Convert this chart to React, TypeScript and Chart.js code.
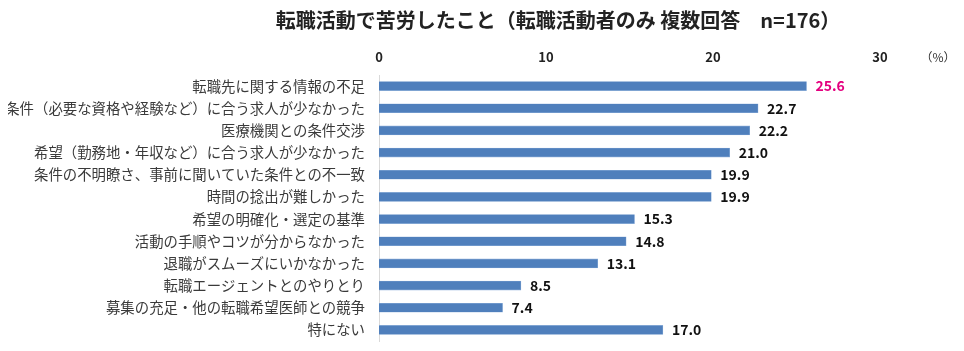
import React, { useEffect, useRef } from "react";
import { Chart, registerables } from "chart.js";

Chart.register(...registerables);

const titleText = "転職活動で苦労したこと（転職活動者のみ 複数回答　n=176）";
const unitText = "（%）";
const categories = [
  "転職先に関する情報の不足",
  "条件（必要な資格や経験など）に合う求人が少なかった",
  "医療機関との条件交渉",
  "希望（勤務地・年収など）に合う求人が少なかった",
  "条件の不明瞭さ、事前に聞いていた条件との不一致",
  "時間の捻出が難しかった",
  "希望の明確化・選定の基準",
  "活動の手順やコツが分からなかった",
  "退職がスムーズにいかなかった",
  "転職エージェントとのやりとり",
  "募集の充足・他の転職希望医師との競争",
  "特にない",
];
const values = [25.6, 22.7, 22.2, 21.0, 19.9, 19.9, 15.3, 14.8, 13.1, 8.5, 7.4, 17.0];
const labelColors = ["#e4007f", "#111", "#111", "#111", "#111", "#111", "#111", "#111", "#111", "#111", "#111", "#111"];
const xTicks = [0, 10, 20, 30];

const JP = '"Noto Sans CJK JP", "Noto Sans", sans-serif';

const overlay = {
  id: "overlay",
  afterDatasetsDraw(chart: any) {
    const ctx = chart.ctx;
    const meta = chart.getDatasetMeta(0);
    ctx.save();
    ctx.font = `bold 14px ${JP}`;
    ctx.textBaseline = "middle";
    ctx.textAlign = "left";
    meta.data.forEach((bar: any, i: number) => {
      ctx.fillStyle = labelColors[i];
      ctx.fillText(values[i].toFixed(1), bar.x + 9, bar.y);
    });
    ctx.restore();
  },
  afterDraw(chart: any) {
    const ctx = chart.ctx;
    ctx.save();
    ctx.fillStyle = "#222";
    ctx.font = `bold 20px ${JP}`;
    ctx.textAlign = "center";
    ctx.textBaseline = "middle";
    ctx.fillText(titleText, 550, 12);
    ctx.font = `12px ${JP}`;
    ctx.fillStyle = "#333";
    ctx.fillText(unitText, 930, 49);
    ctx.restore();
  },
};

export default function App() {
  const ref = useRef<HTMLCanvasElement>(null);
  useEffect(() => {
    if (!ref.current) return;
    const chart = new Chart(ref.current, {
      type: "bar",
      data: {
        labels: categories,
        datasets: [
          {
            data: values,
            backgroundColor: "#4f7fbc",
            borderColor: "#8fb0da",
            borderWidth: 0.6,
            barThickness: 9,
          },
        ],
      },
      options: {
        indexAxis: "y",
        animation: false,
        responsive: false,
        maintainAspectRatio: false,
        layout: { padding: { top: 37, right: 76, bottom: 10, left: 0 } },
        plugins: { legend: { display: false }, tooltip: { enabled: false }, title: { display: false } },
        scales: {
          x: {
            position: "top",
            min: 0,
            max: 30,
            afterBuildTicks: (axis: any) => {
              axis.ticks = xTicks.map((v) => ({ value: v }));
            },
            afterFit: (axis: any) => {
              axis.height = 30;
              axis.paddingLeft = 0;
              axis.paddingRight = 0;
            },
            grid: { display: false, drawTicks: false },
            border: { display: false },
            ticks: {
              padding: 10,
              color: "#222",
              font: { family: JP, size: 13, weight: "bold" },
            },
          },
          y: {
            afterFit: (axis: any) => {
              axis.width = 371;
              axis.paddingTop = 0;
              axis.paddingBottom = 0;
            },
            grid: { display: false, drawTicks: false },
            border: { display: true, color: "#d9d9d9", width: 1 },
            ticks: {
              padding: 14,
              color: "#3a3a3a",
              font: { family: JP, size: 14.4 },
              autoSkip: false,
            },
          },
        },
      },
      plugins: [overlay],
    });
    return () => chart.destroy();
  }, []);
  return (
    <div style={{ width: 948, height: 343 }}>
      <canvas ref={ref} width={948} height={343} style={{ display: "block" }} />
    </div>
  );
}
